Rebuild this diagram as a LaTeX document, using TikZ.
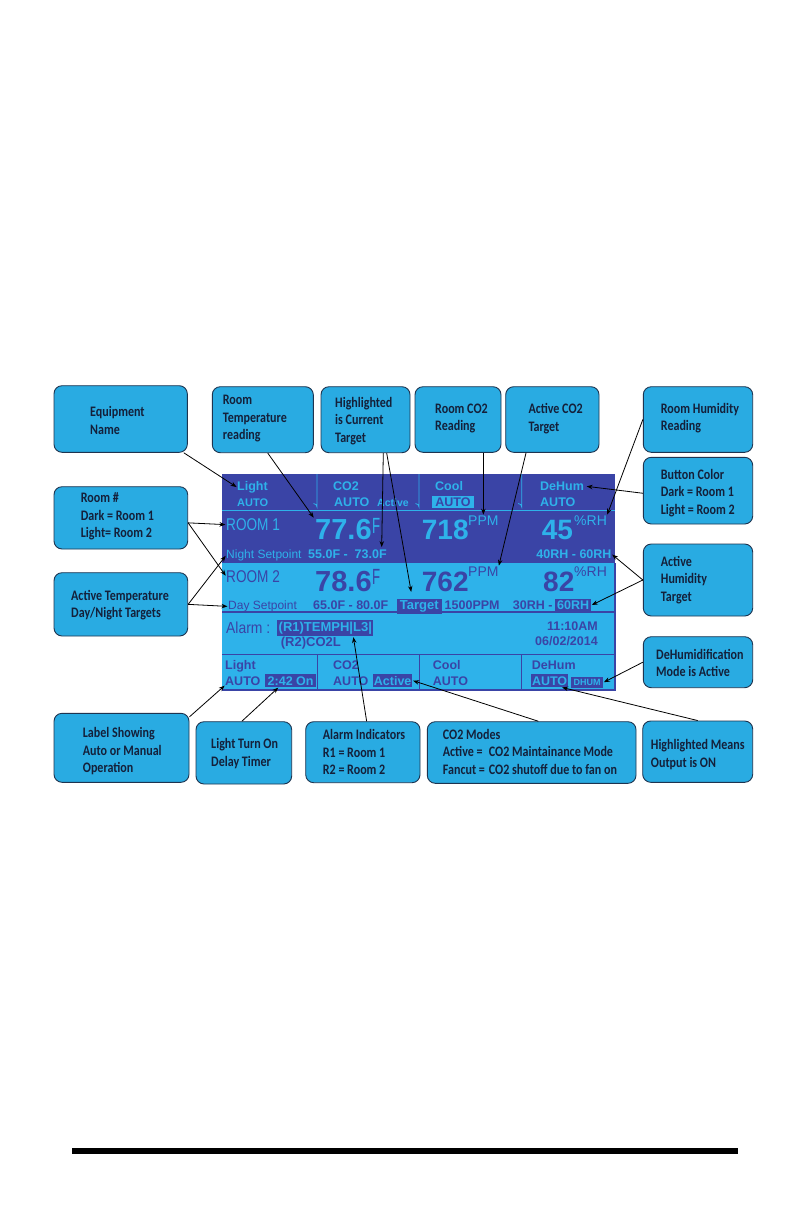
\documentclass[tikz,border=0pt]{standalone}
\usepackage{graphicx}
\usepackage{fontspec}
\setmainfont{Liberation Sans}
\newfontfamily\cfont[FakeStretch=0.83]{Carlito}
\usetikzlibrary{arrows.meta,calc}
\definecolor{scrdark}{HTML}{3A44A6}
\definecolor{scrlight}{HTML}{2EB2EA}
\definecolor{boxfill}{HTML}{29ABE2}
\definecolor{boxline}{HTML}{1E3450}
\definecolor{boxtext}{HTML}{14203A}
\newcommand\fsz[1]{\fontsize{#1}{#1}\selectfont}
\tikzset{
  cbox/.style={draw=boxline, line width=0.9pt, fill=boxfill, rounded corners=8pt, inner sep=0pt},
  ctext/.style={anchor=west, align=left, inner sep=0pt, text=boxtext, font=\cfont\bfseries\fontsize{14.5}{17.5}\selectfont},
  st/.style={inner sep=0pt, anchor=base west},
  lt/.style={st, text=scrlight},
  dk/.style={st, text=scrdark},
  hl/.style={anchor=base west, fill=scrdark, text=scrlight, inner xsep=#1, inner ysep=2pt},
  hl/.default=1.5pt,
  conn/.style={draw=black, line width=0.8pt, -{Stealth[length=6pt,width=4.5pt]}, shorten >=0.5pt},
  scrline/.style={line width=0.8pt}
}
\begin{document}
\begin{tikzpicture}[x=1pt,y=-1pt]
\useasboundingbox (0,0) rectangle (792,1224);
\fill[white] (0,0) rectangle (792,1224);

% ---------- screen ----------
\fill[scrdark] (222,474) rectangle (615,562.7);
\fill[scrlight] (222,562.7) rectangle (615,690);
\draw[scrlight, scrline] (222,510.5) -- (615,510.5);
\foreach \xx in {317,419,521.7} {
  \draw[scrlight, scrline] (\xx,474) -- (\xx,507) arc[start angle=0, end angle=-90, radius=3.5];
}
\draw[scrdark, line width=2pt] (222,612) -- (615,612);
\draw[scrdark, line width=1pt] (222,654) -- (615,654);
\foreach \xx in {317,419,521.7} {
  \draw[scrdark, scrline] (\xx,654) -- (\xx,690);
}
\draw[scrdark, line width=1.2pt] (222,690) -- (615,690) -- (615,562.7);

% top button row
\node[lt, font=\bfseries\fsz{12.5}] (lt1) at (237,490.5) {Light};
\node[lt, font=\bfseries\fsz{11}] (lt1a) at (237,506) {AUTO};
\node[lt, font=\bfseries\fsz{12.5}] (co1) at (333,490.5) {CO2};
\node[lt, font=\bfseries\fsz{12.5}] (co1a) at (334,506) {AUTO};
\node[lt, font=\bfseries\fsz{10.5}] (co1b) at (377,506) {Active};
\node[lt, font=\bfseries\fsz{12.5}] (cl1) at (435,490.5) {Cool};
\node[anchor=base west, fill=scrlight, text=scrdark, inner xsep=3.4pt, inner ysep=1.5pt, font=\bfseries\fsz{12.5}] (cl1a) at (431.7,506.5) {AUTO};
\node[lt, font=\bfseries\fsz{12.5}] (dh1) at (540,490.5) {DeHum};
\node[lt, font=\bfseries\fsz{12.5}] (dh1a) at (540,506) {AUTO};

% room 1
\node[lt, font=\fsz{17}] (room1) at (226,530.5) {\scalebox{0.8}[1]{ROOM 1}};
\node[lt, font=\bfseries\fsz{29}] (t1) at (315,539.5) {77.6};
\node[lt, font=\fsz{22}] (t1u) at (372,533) {\scalebox{0.6}[1]{F}};
\node[lt, font=\bfseries\fsz{28}] (c1) at (421.7,539.5) {718};
\node[lt, font=\fsz{14}] (c1u) at (468,525) {PPM};
\node[lt, font=\bfseries\fsz{28}] (h1) at (541.7,539.5) {45};
\node[lt, font=\fsz{14}] (h1u) at (574,525) {\%RH};
\node[lt, font=\fsz{12}] (night) at (226,558.5) {Night Setpoint};
\node[lt, font=\bfseries\fsz{12.5}] (sp1) at (308,558.5) {55.0F -};
\node[hl, font=\bfseries\fsz{12.5}] (sp1h) at (353,558.5) {73.0F};
\node[st, anchor=base east, text=scrlight, font=\bfseries\fsz{12.5}] (rng1) at (611.7,558.5) {40RH - 60RH};

% room 2
\node[dk, font=\fsz{17}] (room2) at (226,582) {\scalebox{0.8}[1]{ROOM 2}};
\node[dk, font=\bfseries\fsz{29}] (t2) at (315,591) {78.6};
\node[dk, font=\fsz{22}] (t2u) at (372,584.5) {\scalebox{0.6}[1]{F}};
\node[dk, font=\bfseries\fsz{28}] (c2) at (421.7,591) {762};
\node[dk, font=\fsz{14}] (c2u) at (468,576) {PPM};
\node[dk, font=\bfseries\fsz{28}] (h2) at (543,591) {82};
\node[dk, font=\fsz{14}] (h2u) at (574,576) {\%RH};
\node[dk, font=\fsz{12}] (day) at (228,609.5) {Day Setpoint};
\node[dk, font=\bfseries\fsz{12.5}] (sp2) at (313,609.5) {65.0F - 80.0F};
\node[hl=3pt, font=\bfseries\fsz{13}] (target) at (396.7,609.5) {Target};
\node[dk, font=\bfseries\fsz{12.5}] (co2t) at (444.5,609.5) {1500PPM};
\node[dk, font=\bfseries\fsz{12.5}] (rh2) at (512.7,609.5) {30RH -};
\node[hl=2pt, font=\bfseries\fsz{12.5}] (rh2h) at (555,609.5) {60RH};

% alarm
\node[dk, font=\fsz{16}] (alarm) at (226,633) {\scalebox{0.87}[1]{Alarm :}};
\node[hl=1.5pt, font=\bfseries\fsz{13}] (al1) at (277,631.5) {(R1)TEMPH|L3|};
\node[dk, font=\bfseries\fsz{13}] (al2) at (280.7,646.5) {(R2)CO2L};
\node[st, anchor=base east, text=scrdark, font=\bfseries\fsz{12.5}] (time) at (598,630.7) {11:10AM};
\node[st, anchor=base east, text=scrdark, font=\bfseries\fsz{12.5}] (date) at (598,645) {06/02/2014};

% bottom button row
\node[dk, font=\bfseries\fsz{12.5}] (lt2) at (225,669) {Light};
\node[dk, font=\bfseries\fsz{12.5}] (lt2a) at (225,685) {AUTO};
\node[hl=2.5pt, font=\bfseries\fsz{12.5}] (timer) at (265,685) {2:42 On};
\node[dk, font=\bfseries\fsz{12.5}] (co2) at (333,669) {CO2};
\node[dk, font=\bfseries\fsz{12.5}] (co2a) at (333,685) {AUTO};
\node[hl=1pt, font=\bfseries\fsz{12.5}] (act) at (372.7,685) {Active};
\node[dk, font=\bfseries\fsz{12.5}] (cl2) at (432.7,669) {Cool};
\node[dk, font=\bfseries\fsz{12.5}] (cl2a) at (432.7,685) {AUTO};
\node[dk, font=\bfseries\fsz{12.5}] (dh2) at (531.7,669) {DeHum};
\node[hl=0.8pt, font=\bfseries\fsz{12.5}] (dh2a) at (531,685) {AUTO};
\node[hl=2.5pt, inner ysep=2.8pt, font=\bfseries\fsz{9}] (dhum) at (571,685.5) {DHUM};

% ---------- callout boxes ----------
\node[cbox, minimum width=133.3pt, minimum height=66.6pt] (equip) at (120.65,419) {};
\node[ctext] (equipT) at (90,420.3) {Equipment\\Name};
\node[cbox, minimum width=101pt, minimum height=66pt] (roomtemp) at (262.8,419.7) {};
\node[ctext] (roomtempT) at (222.7,419) {Room\\Temperature\\reading};
\node[cbox, minimum width=89pt, minimum height=66pt] (highl) at (365.5,419.7) {};
\node[ctext] (highlT) at (335,421) {Highlighted\\is Current\\Target};
\node[cbox, minimum width=86pt, minimum height=65.6pt] (roomco2) at (458,419.5) {};
\node[ctext] (roomco2T) at (435,418.3) {Room CO2\\Reading};
\node[cbox, minimum width=93.3pt, minimum height=65.6pt] (activeco2) at (552.35,419.5) {};
\node[ctext] (activeco2T) at (528.3,418.5) {Active CO2\\Target};
\node[cbox, minimum width=109.4pt, minimum height=65.6pt] (roomhum) at (698,419.5) {};
\node[ctext] (roomhumT) at (660.7,418.3) {Room Humidity\\Reading};
\node[cbox, minimum width=109.4pt, minimum height=66.7pt] (btncolor) at (698,490.65) {};
\node[ctext] (btncolorT) at (660.7,493) {Button Color\\Dark = Room 1\\Light = Room 2};
\node[cbox, minimum width=133.7pt, minimum height=62.3pt] (roomnum) at (120.85,517.85) {};
\node[ctext] (roomnumT) at (80.7,516.3) {Room \#\\Dark = Room 1\\Light= Room 2};
\node[cbox, minimum width=133.7pt, minimum height=63.3pt] (activetemp) at (120.85,604.35) {};
\node[ctext] (activetempT) at (71,605.3) {Active Temperature\\Day/Night Targets};
\node[cbox, minimum width=109.4pt, minimum height=72pt] (activehum) at (698,580) {};
\node[ctext] (activehumT) at (660.7,580) {Active\\Humidity\\Target};
\node[cbox, minimum width=109.4pt, minimum height=51pt] (dehumact) at (698,662.2) {};
\node[ctext] (dehumactT) at (656,663) {DeHumidification\\Mode is Active};
\node[cbox, minimum width=135pt, minimum height=69pt] (labelshow) at (121.5,747.8) {};
\node[ctext] (labelshowT) at (82.7,751.5) {Label Showing\\Auto or Manual\\Operation};
\node[cbox, minimum width=95.7pt, minimum height=62.3pt] (lightturn) at (243.85,752.85) {};
\node[ctext] (lightturnT) at (211,753.3) {Light Turn On\\Delay Timer};
\node[cbox, minimum width=114.3pt, minimum height=61pt] (alarmind) at (362.85,752.2) {};
\node[ctext] (alarmindT) at (322.7,752.3) {Alarm Indicators\\R1 = Room 1\\R2 = Room 2};
\node[cbox, minimum width=208.7pt, minimum height=61.6pt] (co2modes) at (531.65,752.5) {};
\node[ctext] (co2modesT) at (442.7,751.8) {CO2 Modes\\\makebox[46pt][l]{Active =}CO2 Maintainance Mode\\\makebox[46pt][l]{Fancut =}CO2 shutoff due to fan on};
\node[cbox, minimum width=110pt, minimum height=61.3pt] (highmeans) at (697.7,751.65) {};
\node[ctext] (highmeansT) at (650.7,754.7) {Highlighted Means\\Output is ON};

% ---------- connectors ----------
\draw[conn] ([xshift=-4pt]equip.south east) -- (lt1.west);
\draw[conn] ([xshift=5pt]roomtemp.south) -- ([xshift=-1pt,yshift=1pt]t1.north west);
\draw[conn] ([xshift=17.8pt]highl.south) -- ([xshift=11pt]sp1h.north);
\draw[conn] ([xshift=21.2pt]highl.south) -- ([xshift=-8pt,yshift=6pt]target.north);
\draw[conn] (roomco2.south -| c1u.north) -- (c1u.north);
\draw[conn] ([xshift=-26.3pt]activeco2.south) -- (c2u.north east);
\draw[conn] (roomhum.west) -- (h1u.north east);
\draw[conn] ([yshift=-2.6pt]btncolor.west) -- ([xshift=2pt]dh1.east);
\draw[conn] ([yshift=-5pt]roomnum.east) -- (room1.west);
\draw[conn] ([yshift=-5pt]roomnum.east) -- (room2.west);
\draw[conn] (activetemp.east) -- (night.west);
\draw[conn] (activetemp.east) -- (day.west);
\draw[conn] (activehum.west) -- (rng1.east);
\draw[conn] (activehum.west) -- (rh2h.east);
\draw[conn] (dehumact.west) -- (dhum.east);
\draw[conn] (highmeans.north) -- ([xshift=12pt]dh2a.south);
\draw[conn] ([xshift=6.7pt]co2modes.north) -- (act.east);
\draw[conn] ([xshift=3.8pt]alarmind.north) -- ([xshift=28pt]al1.south);
\draw[conn] ([xshift=-2pt]lightturn.north) -- ([xshift=-12pt]timer.south);
\draw[conn] ([yshift=-4pt]labelshow.north east) -- (lt2a.south west);

% bottom rule
\fill[black] (72.3,1147.7) rectangle (738,1154.3);
\end{tikzpicture}
\end{document}
